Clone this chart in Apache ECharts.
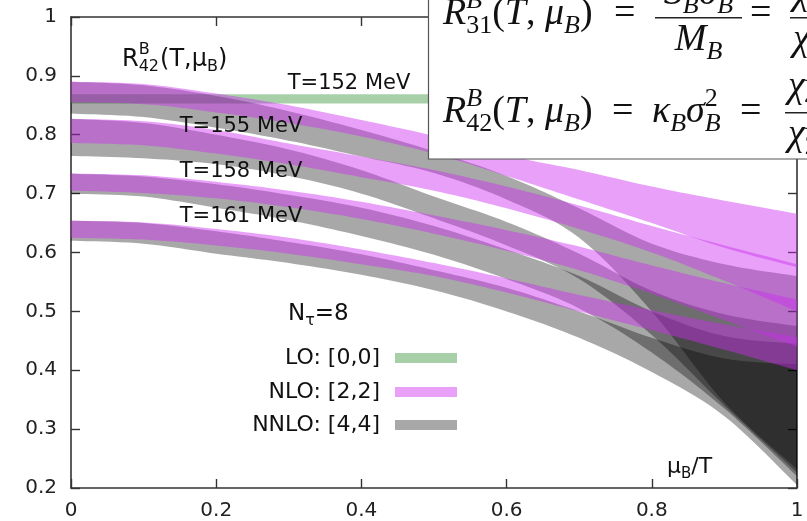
<!DOCTYPE html>
<html><head><meta charset="utf-8">
<script src="https://cdn.jsdelivr.net/npm/echarts@6/dist/echarts.min.js"></script>
<style>html,body{margin:0;padding:0;background:#fff}#c{width:807px;height:521px}</style>
</head><body><div id="c"></div>
<script>
// ---------------- data ----------------
const mu = [0, 0.1, 0.2, 0.3, 0.4, 0.5, 0.6, 0.7, 0.8, 0.9, 1.0];
const xTicks = [0, 0.2, 0.4, 0.6, 0.8, 1];
const yTicks = [0.2, 0.3, 0.4, 0.5, 0.6, 0.7, 0.8, 0.9, 1];
const temps = ['T=152 MeV', 'T=155 MeV', 'T=158 MeV', 'T=161 MeV'];
const orders = ['LO: [0,0]', 'NLO: [2,2]', 'NNLO: [4,4]'];

// LO [0,0] band, T=152 MeV (constant in mu_B/T)
const loMu = [0, 1];
const lo152Low  = [0.853, 0.853];
const lo152High = [0.869, 0.869];

// NLO [2,2] bands
const nlo152High = [0.890,0.886,0.870,0.850,0.825,0.798,0.765,0.740,0.712,0.688,0.666];
const nlo152Low  = [0.855,0.852,0.838,0.820,0.797,0.768,0.730,0.690,0.650,0.608,0.575];
const nlo155High = [0.827,0.823,0.808,0.785,0.763,0.740,0.712,0.680,0.645,0.612,0.580];
const nlo155Low  = [0.786,0.782,0.768,0.750,0.728,0.705,0.675,0.640,0.600,0.552,0.500];
const nlo158High = [0.734,0.731,0.720,0.705,0.686,0.663,0.638,0.610,0.578,0.548,0.520];
const nlo158Low  = [0.705,0.701,0.692,0.677,0.657,0.632,0.603,0.570,0.530,0.485,0.440];
const nlo161High = [0.654,0.651,0.640,0.625,0.605,0.582,0.556,0.528,0.502,0.478,0.456];
const nlo161Low  = [0.625,0.622,0.612,0.598,0.580,0.560,0.532,0.500,0.468,0.435,0.400];

// NNLO [4,4] bands
const nnlo152High = [0.890,0.884,0.866,0.840,0.808,0.772,0.730,0.675,0.615,0.580,0.560];
const nnlo152Low  = [0.836,0.830,0.812,0.790,0.763,0.735,0.690,0.625,0.500,0.345,0.232];
const nnlo155High = [0.827,0.820,0.800,0.775,0.740,0.695,0.652,0.598,0.535,0.495,0.475];
const nnlo155Low  = [0.764,0.760,0.750,0.730,0.700,0.658,0.612,0.555,0.460,0.340,0.226];
const nnlo158High = [0.734,0.729,0.716,0.698,0.676,0.645,0.605,0.560,0.500,0.458,0.445];
const nnlo158Low  = [0.700,0.695,0.676,0.655,0.628,0.596,0.555,0.505,0.430,0.335,0.220];
const nnlo161High = [0.654,0.650,0.636,0.618,0.597,0.570,0.540,0.500,0.455,0.420,0.410];
const nnlo161Low  = [0.620,0.615,0.598,0.582,0.562,0.536,0.500,0.455,0.397,0.322,0.205];

// ---------------- styling ----------------
const GREEN = 'rgba(62,151,62,0.45)';
const PURPLE = 'rgba(204,44,239,0.45)';
const GRAY = 'rgba(0,0,0,0.34)';
const SANS = '"DejaVu Sans", sans-serif';
const SERIF = '"Liberation Serif", "DejaVu Serif", serif';
const AX = '#333';

// smooth a pixel-space polyline (Catmull-Rom) for rendering only
function spline(p) {
  if (p.length < 3) return p.slice();
  const out = [];
  const n = p.length, STEPS = 10;
  for (let i = 0; i < n - 1; i++) {
    const p0 = p[Math.max(0, i - 1)], p1 = p[i], p2 = p[i + 1], p3 = p[Math.min(n - 1, i + 2)];
    for (let s = 0; s < STEPS; s++) {
      const t = s / STEPS, t2 = t * t, t3 = t2 * t;
      const f = k => 0.5 * ((2 * p1[k]) + (-p0[k] + p2[k]) * t + (2 * p0[k] - 5 * p1[k] + 4 * p2[k] - p3[k]) * t2 + (-p0[k] + 3 * p1[k] - 3 * p2[k] + p3[k]) * t3);
      out.push([f(0), f(1)]);
    }
  }
  out.push(p[n - 1].slice());
  return out;
}

function band(id, xs, low, high, color) {
  return {
    type: 'custom', name: id, coordinateSystem: 'cartesian2d', silent: true, animation: false, clip: true,
    data: xs.map((x, i) => [x, low[i], high[i]]),
    encode: { x: 0, y: [1, 2] },
    renderItem: function (params, api) {
      if (params.dataIndex !== 0) return;
      const up = xs.map((x, i) => api.coord([x, high[i]]));
      const lo = xs.map((x, i) => api.coord([x, low[i]]));
      const pts = spline(up).concat(spline(lo).reverse());
      return { type: 'polygon', shape: { points: pts }, style: { fill: color, stroke: null } };
    }
  };
}

const series = [
  band('lo152', loMu, lo152Low, lo152High, GREEN),
  band('nnlo152', mu, nnlo152Low, nnlo152High, GRAY),
  band('nnlo155', mu, nnlo155Low, nnlo155High, GRAY),
  band('nnlo158', mu, nnlo158Low, nnlo158High, GRAY),
  band('nnlo161', mu, nnlo161Low, nnlo161High, GRAY),
  band('nlo152', mu, nlo152Low, nlo152High, PURPLE),
  band('nlo155', mu, nlo155Low, nlo155High, PURPLE),
  band('nlo158', mu, nlo158Low, nlo158High, PURPLE),
  band('nlo161', mu, nlo161Low, nlo161High, PURPLE)
];

// ---------------- text layout helper ----------------
const mctx = document.createElement('canvas').getContext('2d');
function layout(x0, base, items, family, z) {
  let x = x0; const out = [];
  for (const it of items) {
    if (!Array.isArray(it) && it.ax !== undefined) { x = it.ax; continue; }
    if (!Array.isArray(it) && it.g !== undefined) { x += it.g; continue; }
    const group = Array.isArray(it) ? it : [it];
    let maxW = 0;
    for (const p of group) {
      const font = (p.i ? 'italic ' : '') + p.s + 'px ' + family;
      mctx.font = font;
      const w = mctx.measureText(p.t).width;
      maxW = Math.max(maxW, w + (p.dx || 0));
      out.push({ type: 'text', z: z || 100, silent: true,
        x: x + (p.dx || 0), y: base + (p.dy || 0) - 0.3 * p.s,
        style: { text: p.t, font: font, fill: p.c || '#111',
          textAlign: 'left', align: 'left', textVerticalAlign: 'middle', verticalAlign: 'middle' } });
    }
    x += maxW;
  }
  out.endX = x;
  return out;
}
function measure(items, family) {
  let w = 0;
  for (const it of items) {
    const group = Array.isArray(it) ? it : [it];
    let m = 0;
    for (const p of group) { mctx.font = (p.i ? 'italic ' : '') + p.s + 'px ' + family; m = Math.max(m, mctx.measureText(p.t).width + (p.dx||0)); }
    w += m;
  }
  return w;
}

const graphics = [];
// plot labels (sans)
const L = 24, LS = 16;
graphics.push(...layout(122, 67, [
  { t: 'R', s: L }, [{ t: 'B', s: LS, dy: -12 }, { t: '42', s: LS, dy: 5 }], { g: 1 },
  { t: '(T,μ', s: L }, { t: 'B', s: LS, dy: 5 }, { t: ')', s: L }
], SANS));
function label(txt, cx, cy, size) {
  graphics.push({ type: 'text', z: 100, silent: true, x: cx, y: cy,
    style: { text: txt, font: size + 'px ' + SANS, fill: '#111', textAlign: 'center', align: 'center',
      textVerticalAlign: 'middle', verticalAlign: 'middle' } });
}
label(temps[0], 349, 84, 21);
label(temps[1], 241, 127, 21);
label(temps[2], 241, 172, 21);
label(temps[3], 241, 217, 21);

graphics.push(...layout(288, 321, [
  { t: 'N', s: 23 }, { t: 'τ', s: 16, dy: 5 }, { t: '=8', s: 23 }
], SANS));
graphics.push(...layout(667, 474, [
  { t: 'μ', s: 22 }, { t: 'B', s: 15, dy: 5 }, { t: '/T', s: 22 }
], SANS));

// legend
const legColors = ['#a8d0a8', '#e8a0f8', '#a8a8a8'];
const legY = [358, 392, 425];
orders.forEach((o, i) => {
  graphics.push({ type: 'text', z: 100, silent: true, x: 380, y: legY[i],
    style: { text: o, font: '22px ' + SANS, fill: '#111', textAlign: 'right', align: 'right',
      textVerticalAlign: 'middle', verticalAlign: 'middle' } });
  graphics.push({ type: 'rect', z: 100, silent: true, shape: { x: 395, y: legY[i] - 5, width: 62, height: 10 },
    style: { fill: legColors[i] } });
});

// formula box
graphics.push({ type: 'rect', z: 90, silent: true, shape: { x: 428.5, y: -2, width: 400, height: 161 },
  style: { fill: '#fff', stroke: '#555', lineWidth: 1.2 } });
const M = 38, S = 26, UP = -16, DN = 9;
// equation 1
graphics.push(...layout(443, 25, [
  { t: 'R', s: M, i: 1 }, [{ t: 'B', s: S, i: 1, dy: UP }, { t: '31', s: S, dy: DN }],
  { t: '(', s: M }, { t: 'T', s: M, i: 1 }, { t: ', ', s: M }, { t: 'μ', s: M, i: 1 },
  { t: 'B', s: S, i: 1, dy: DN }, { t: ')', s: M }, { ax: 614 }, { t: '=', s: M }
], SERIF, 101));
const num1 = [{ t: 'S', s: M, i: 1 }, { t: 'B', s: S, i: 1, dy: DN }, { t: 'σ', s: M, i: 1 },
  [{ t: '3', s: S, dy: UP }, { t: 'B', s: S, i: 1, dy: DN }]];
const den1 = [{ t: 'M', s: M, i: 1 }, { t: 'B', s: S, i: 1, dy: DN }];
const fx1 = 655, w1 = 87;
graphics.push(...layout(fx1 + (w1 - measure(num1, SERIF)) / 2, 5, num1, SERIF, 101));
graphics.push(...layout(fx1 + (w1 - measure(den1, SERIF)) / 2, 51, den1, SERIF, 101));
graphics.push({ type: 'rect', z: 101, silent: true, shape: { x: fx1, y: 17, width: w1, height: 1.5 }, style: { fill: '#222' } });
graphics.push(...layout(750, 25, [{ t: '=', s: M }], SERIF, 101));
graphics.push(...layout(793, 5, [{ t: 'χ', s: M, i: 1 }, [{ t: 'B', s: S, i: 1, dy: UP }, { t: '3', s: S, dy: DN }]], SERIF, 101));
graphics.push(...layout(793, 51, [{ t: 'χ', s: M, i: 1 }, [{ t: 'B', s: S, i: 1, dy: UP }, { t: '1', s: S, dy: DN }]], SERIF, 101));
graphics.push({ type: 'rect', z: 101, silent: true, shape: { x: 790, y: 17, width: 60, height: 1.5 }, style: { fill: '#222' } });

// equation 2
graphics.push(...layout(443, 123, [
  { t: 'R', s: M, i: 1 }, [{ t: 'B', s: S, i: 1, dy: UP }, { t: '42', s: S, dy: DN }],
  { t: '(', s: M }, { t: 'T', s: M, i: 1 }, { t: ', ', s: M }, { t: 'μ', s: M, i: 1 },
  { t: 'B', s: S, i: 1, dy: DN }, { t: ')', s: M }, { ax: 612 }, { t: '=', s: M },
  { ax: 652 }, { t: 'κ', s: M, i: 1 }, { t: 'B', s: S, i: 1, dy: DN }, { t: 'σ', s: M, i: 1 },
  [{ t: '2', s: S, dy: UP }, { t: 'B', s: S, i: 1, dy: DN }], { ax: 740 }, { t: '=', s: M }
], SERIF, 101));
graphics.push(...layout(788, 98, [{ t: 'χ', s: M, i: 1 }, [{ t: 'B', s: S, i: 1, dy: UP }, { t: '4', s: S, dy: DN }]], SERIF, 101));
graphics.push(...layout(788, 146, [{ t: 'χ', s: M, i: 1 }, [{ t: 'B', s: S, i: 1, dy: UP }, { t: '2', s: S, dy: DN }]], SERIF, 101));
graphics.push({ type: 'rect', z: 101, silent: true, shape: { x: 785, y: 112, width: 60, height: 1.5 }, style: { fill: '#222' } });

// ---------------- axes ----------------
const fmt = v => String(Math.round(v * 10) / 10);
function xAxis(pos, showLabel) {
  return { type: 'value', min: xTicks[0], max: xTicks[xTicks.length - 1], interval: 0.2, position: pos,
    axisLine: { show: true, onZero: false, lineStyle: { color: AX, width: 1.6 } },
    axisTick: { show: true, inside: true, length: 9, lineStyle: { color: AX, width: 1.4 } },
    axisLabel: { show: showLabel, formatter: fmt, fontFamily: SANS, fontSize: 20, color: '#222', margin: 13 },
    splitLine: { show: false } };
}
function yAxis(pos, showLabel) {
  return { type: 'value', min: yTicks[0], max: yTicks[yTicks.length - 1], interval: 0.1, position: pos,
    axisLine: { show: true, onZero: false, lineStyle: { color: AX, width: 1.6 } },
    axisTick: { show: true, inside: true, length: 9, lineStyle: { color: AX, width: 1.4 } },
    axisLabel: { show: showLabel, formatter: fmt, fontFamily: SANS, fontSize: 20, color: '#222', margin: 14 },
    splitLine: { show: false } };
}

const chart = echarts.init(document.getElementById('c'), null, { renderer: 'canvas' });
chart.setOption({
  animation: false,
  backgroundColor: '#fff',
  grid: { left: 71, right: 10, top: 17, bottom: 33, containLabel: false },
  xAxis: [xAxis('bottom', true), xAxis('top', false)],
  yAxis: [yAxis('left', true), yAxis('right', false)],
  series: series,
  graphic: { elements: graphics }
});
</script></body></html>
